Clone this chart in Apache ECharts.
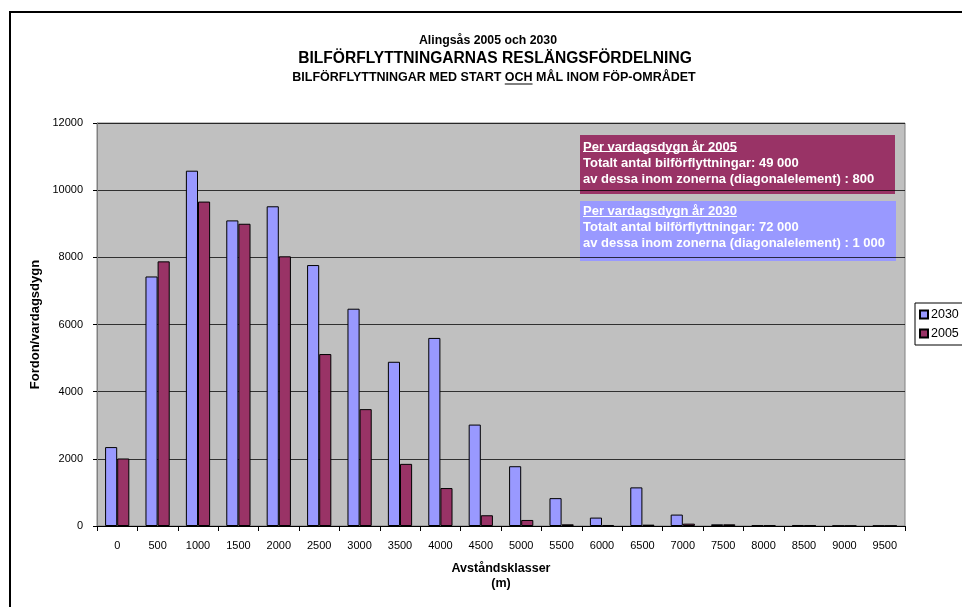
<!DOCTYPE html>
<html>
<head>
<meta charset="utf-8">
<script src="https://cdn.jsdelivr.net/npm/echarts@6/dist/echarts.min.js"></script>
<style>
  html, body { margin: 0; padding: 0; background: #fff; }
  #chart { width: 962px; height: 607px; }
</style>
</head>
<body>
<div id="chart"></div>
<script>
// Distance classes (m)
const categories = ['0','500','1000','1500','2000','2500','3000','3500','4000','4500',
                    '5000','5500','6000','6500','7000','7500','8000','8500','9000','9500'];
// Vehicles per weekday, forecast year
const values2030 = [2350, 7430, 10580, 9100, 9520, 7770, 6470, 4890, 5600, 3020,
                    1780, 830, 250, 1150, 340, 50, 20, 30, 10, 10];
// Vehicles per weekday, base year
const values2005 = [2010, 7880, 9660, 9000, 8030, 5120, 3480, 1850, 1130, 320,
                    180, 50, 30, 40, 70, 50, 20, 20, 10, 10];
const yTicks = [0, 2000, 4000, 6000, 8000, 10000, 12000];

const FONT = '"Liberation Sans", Arial, sans-serif';
const BLUE = '#9999FF';
const PLUM = '#993366';

// text width helper for placing underlines
const measureCtx = document.createElement('canvas').getContext('2d');
function textWidth(text, font) {
  measureCtx.font = font;
  return measureCtx.measureText(text).width;
}

const chart = echarts.init(document.getElementById('chart'), null, { renderer: 'canvas' });

const BOX_FONT = 'bold 13px ' + FONT;
const boxText = (x, y, text) => ({
  type: 'text', x: x, y: y,
  style: { text: text, fill: '#fff', font: BOX_FONT, align: 'left', verticalAlign: 'middle' }
});
const boxUnderline = (x, y, text) => ({
  type: 'line', shape: { x1: x, y1: y, x2: x + textWidth(text, BOX_FONT), y2: y },
  style: { stroke: '#fff', lineWidth: 1 }
});

// subtitle with underlined word
const SUB_FONT = 'bold 12.5px ' + FONT;
const subPre = 'BILFÖRFLYTTNINGAR MED START ';
const subMid = 'OCH';
const subPost = ' MÅL INOM FÖP-OMRÅDET';
const subFull = subPre + subMid + subPost;
const subCenter = 494;
const subLeft = subCenter - textWidth(subFull, SUB_FONT) / 2;
const ochX1 = subLeft + textWidth(subPre, SUB_FONT);
const ochX2 = ochX1 + textWidth(subMid, SUB_FONT);

chart.setOption({
  backgroundColor: '#fff',
  animation: false,
  textStyle: { fontFamily: FONT },
  grid: { left: 97, right: 57, top: 123, bottom: 81, show: true,
          backgroundColor: '#C0C0C0', borderColor: '#808080', borderWidth: 1 },
  legend: {
    orient: 'vertical', left: 915, top: 303,
    data: ['2030', '2005'],
    itemWidth: 8, itemHeight: 8, itemGap: 6,
    backgroundColor: '#fff', borderColor: '#000', borderWidth: 1,
    padding: [5, 12, 5, 4],
    textStyle: { fontFamily: FONT, fontSize: 12.5, color: '#000', padding: [0, 0, 0, -2] },
    icon: 'rect'
  },
  xAxis: {
    type: 'category', data: categories,
    name: 'Avståndsklasser\n(m)', nameLocation: 'middle', nameGap: 35,
    nameTextStyle: { fontFamily: FONT, fontSize: 12.5, fontWeight: 'bold', color: '#000', lineHeight: 15 },
    axisLine: { lineStyle: { color: '#000', width: 1 } },
    axisTick: { show: true, inside: false, length: 5, lineStyle: { color: '#000' } },
    axisLabel: { fontFamily: FONT, fontSize: 11, color: '#000', margin: 14 }
  },
  yAxis: {
    type: 'value', min: 0, max: 12000, interval: 2000,
    name: 'Fordon/vardagsdygn', nameLocation: 'middle', nameGap: 53,
    nameTextStyle: { fontFamily: FONT, fontSize: 13, fontWeight: 'bold', color: '#000' },
    axisLine: { show: true, lineStyle: { color: '#808080', width: 1 } },
    axisTick: { show: true, length: 4, lineStyle: { color: '#000' } },
    axisLabel: { fontFamily: FONT, fontSize: 11, color: '#000', margin: 14,
                 formatter: v => yTicks.includes(v) ? String(v) : '' },
    splitLine: { show: true, lineStyle: { color: '#000', width: 1, opacity: 0.75 } }
  },
  series: [
    { name: '2030', type: 'bar', data: values2030, barGap: '0%', barCategoryGap: '40%',
      itemStyle: { color: BLUE, borderColor: '#000', borderWidth: 1 } },
    { name: '2005', type: 'bar', data: values2005, barGap: '0%', barCategoryGap: '40%',
      itemStyle: { color: PLUM, borderColor: '#000', borderWidth: 1 } }
  ],
  graphic: [
    // outer frame
    { type: 'rect', shape: { x: 10, y: 12, width: 1000, height: 700 },
      style: { fill: 'none', stroke: '#000', lineWidth: 2 }, silent: true },
    // titles
    { type: 'text', x: 488, y: 41,
      style: { text: 'Alingsås 2005 och 2030', font: 'bold 12.3px ' + FONT, fill: '#000',
               align: 'center', verticalAlign: 'middle' } },
    { type: 'text', x: 495, y: 59,
      style: { text: 'BILFÖRFLYTTNINGARNAS RESLÄNGSFÖRDELNING', font: 'bold 15.6px ' + FONT, fill: '#000',
               align: 'center', verticalAlign: 'middle' } },
    { type: 'text', x: subCenter, y: 77.5,
      style: { text: subFull, font: SUB_FONT, fill: '#000', align: 'center', verticalAlign: 'middle' } },
    { type: 'line', shape: { x1: ochX1, y1: 84, x2: ochX2, y2: 84 },
      style: { stroke: '#000', lineWidth: 1 } },
    // 2005 info box
    { type: 'rect', shape: { x: 580, y: 135, width: 315, height: 59 }, style: { fill: PLUM } },
    boxText(583, 147, 'Per vardagsdygn år 2005'),
    boxUnderline(583, 151.5, 'Per vardagsdygn år 2005'),
    boxText(583, 163, 'Totalt antal bilförflyttningar: 49 000'),
    boxText(583, 179, 'av dessa inom zonerna (diagonalelement) : 800'),
    // 2030 info box
    { type: 'rect', shape: { x: 580, y: 201, width: 316, height: 60 }, style: { fill: BLUE } },
    boxText(583, 211.5, 'Per vardagsdygn år 2030'),
    boxUnderline(583, 216.5, 'Per vardagsdygn år 2030'),
    boxText(583, 227.5, 'Totalt antal bilförflyttningar: 72 000'),
    boxText(583, 243.5, 'av dessa inom zonerna (diagonalelement) : 1 000')
  ]
});
</script>
</body>
</html>
